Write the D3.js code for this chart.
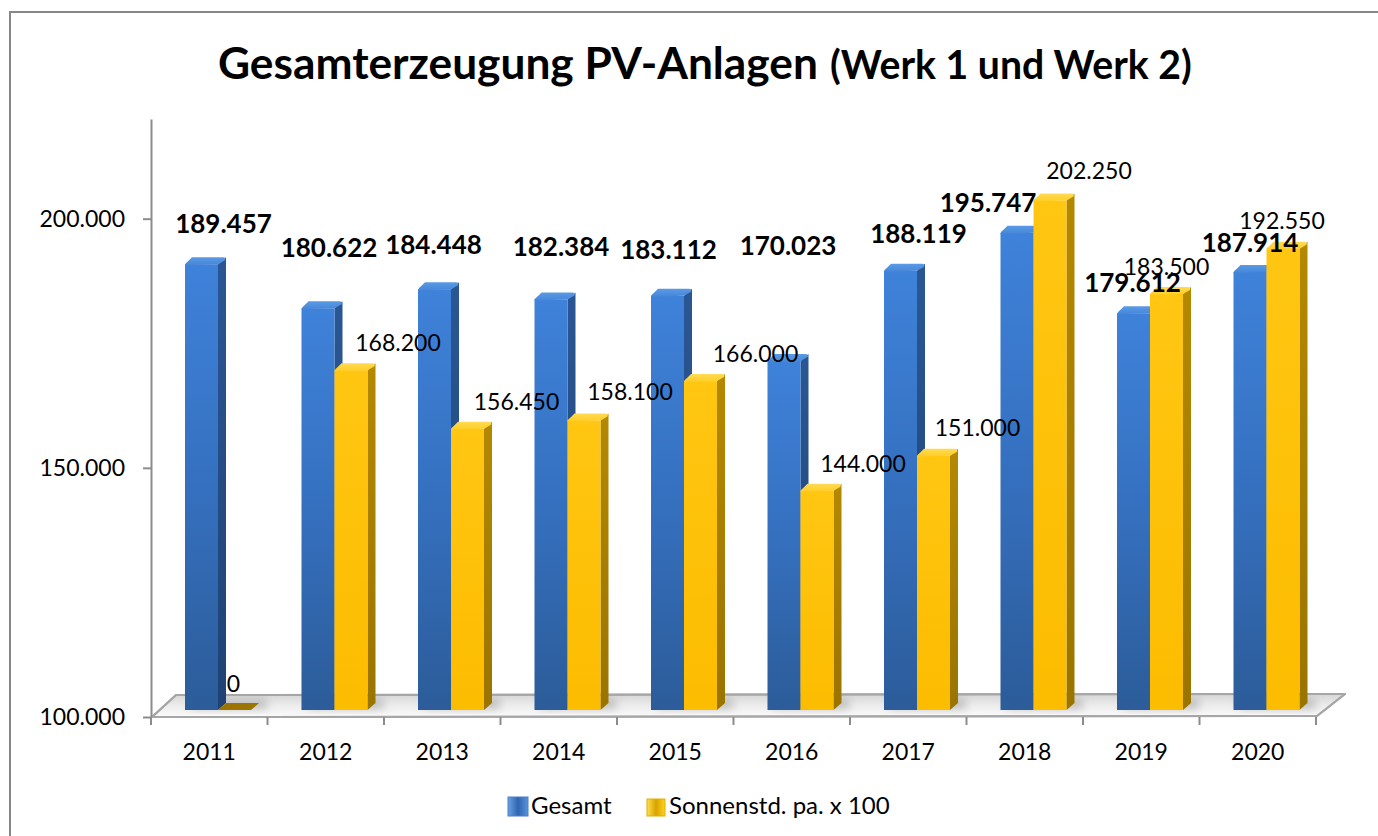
<!DOCTYPE html>
<html>
<head>
<meta charset="utf-8">
<script src="https://cdn.jsdelivr.net/npm/d3@7"></script>
<style>
  html, body { margin: 0; padding: 0; background: #fff; }
  svg { display: block; font-family: Lato, "Open Sans", sans-serif; }
</style>
</head>
<body>
<svg id="chart" width="1378" height="836"></svg>
<script>
// ---------- data ----------
const years = ["2011","2012","2013","2014","2015","2016","2017","2018","2019","2020"];
const gesamt = [189457, 180622, 184448, 182384, 183112, 170023, 188119, 195747, 179612, 187914];
const sonnenstd = [0, 168200, 156450, 158100, 166000, 144000, 151000, 202250, 183500, 192550];
const seriesNames = ["Gesamt", "Sonnenstd. pa. x 100"];
const yTicks = [100000, 150000, 200000];
const titleMain = "Gesamterzeugung PV-Anlagen";
const titleSub = "(Werk 1 und Werk 2)";

// label nudges (layout only, as Excel placed them manually)
const gesamtLabelDx = [22, 11, -1, 10, 1, 4, 18, -29, -1, 0];
const gesamtLabelDy = [-31, -51, -35, -43, -37, -106, -28, -21, -21, -20];
const sonnenLabelDx = [-1, 47, 49, 46, 55, 46, 44, 39, 0, -1];
const sonnenLabelDy = [-18, -19, -19, -20, -19, -19, -20, -21, -19, -20];

// ---------- setup ----------
const svg = d3.select("#chart");
const W = 1378, H = 836;
const FONT = 'Lato, "Open Sans", sans-serif';
const de = d3.formatLocale({decimal: ",", thousands: ".", grouping: [3], currency: ["", "€"]});
const fmt = de.format(",d");

const left = 151, right = 1316, axisY = 717, floorY = 710;
const depthX = 8, depthY = 7;

const x = d3.scaleBand().domain(years).range([left, right]).paddingInner(0).paddingOuter(0);
const xs = d3.scaleBand().domain(seriesNames).range([34, 100]);
const yAxis = d3.scaleLinear().domain([100000, 220000]).range([axisY, 119]);
const yBar = d3.scaleLinear().domain([100000, 220000]).range([floorY, 112]).clamp(true);

// defs
const defs = svg.append("defs");
function vGrad(id, stops) {
  const g = defs.append("linearGradient").attr("id", id).attr("x1", 0).attr("y1", 0).attr("x2", 0).attr("y2", 1);
  stops.forEach(([o, c]) => g.append("stop").attr("offset", o).attr("stop-color", c));
}
function hGrad(id, stops) {
  const g = defs.append("linearGradient").attr("id", id).attr("x1", 0).attr("y1", 0).attr("x2", 1).attr("y2", 0);
  stops.forEach(([o, c]) => g.append("stop").attr("offset", o).attr("stop-color", c));
}
vGrad("blueFront", [[0, "#3f82da"], [0.5, "#3570bf"], [1, "#2c5c99"]]);
vGrad("blueSide", [[0, "#2a5794"], [1, "#1f4273"]]);
vGrad("blueTop", [[0, "#5a9ae6"], [1, "#4586d8"]]);
vGrad("yelFront", [[0, "#ffc612"], [1, "#fcbc00"]]);
vGrad("yelSide", [[0, "#b48800"], [1, "#9a7400"]]);
vGrad("yelTop", [[0, "#ffdb55"], [1, "#ffcc22"]]);
vGrad("floorGrad", [[0, "#d6d6d6"], [0.5, "#ececec"], [1, "#fbfbfb"]]);
hGrad("blueLeg", [[0, "#6aa2e6"], [0.5, "#2f65b0"], [1, "#5b93dc"]]);
hGrad("yelLeg", [[0, "#ffe04a"], [0.5, "#d9a300"], [1, "#ffd21c"]]);
const blur = defs.append("filter").attr("id", "blur").attr("x", "-50%").attr("y", "-50%").attr("width", "200%").attr("height", "200%");
blur.append("feGaussianBlur").attr("stdDeviation", 4);

// background + border
svg.append("rect").attr("width", W).attr("height", H).attr("fill", "#fff");
svg.append("rect").attr("x", 10).attr("y", 12).attr("width", 1400).attr("height", 900)
  .attr("fill", "none").attr("stroke", "#878787").attr("stroke-width", 2);

// title (fit to reference widths)
const tMain = svg.append("text").attr("x", 218).attr("y", 79).attr("font-family", FONT)
  .attr("font-weight", 700).attr("font-size", 40).attr("fill", "#000").text(titleMain);
let w1 = tMain.node().getComputedTextLength();
tMain.attr("font-size", 40 * 600 / w1);
const tSub = svg.append("text").attr("x", 830).attr("y", 79).attr("font-family", FONT)
  .attr("font-weight", 700).attr("font-size", 30).attr("fill", "#000").text(titleSub);
let w2 = tSub.node().getComputedTextLength();
tSub.attr("font-size", 30 * 362 / w2);

// floor
const fl = [[left + 1, axisY], [right + 1, axisY - 1], [1345, 694], [176, 695]];
svg.append("polygon").attr("points", fl.map(p => p.join(",")).join(" "))
  .attr("fill", "url(#floorGrad)").attr("stroke", "#a6a6a6").attr("stroke-width", 2).attr("stroke-linejoin", "round");

// floor shadows behind each bar group
const shadowG = svg.append("g").attr("filter", "url(#blur)");
years.forEach((yr, i) => {
  const gx = x(yr) + xs("Gesamt");
  shadowG.append("rect").attr("x", gx + 6).attr("y", 699).attr("width", 76).attr("height", 10)
    .attr("fill", "#8a8a8a").attr("opacity", 0.45);
});
svg.append("polygon").attr("points", fl.map(p => p.join(",")).join(" "))
  .attr("fill", "none").attr("stroke", "#a6a6a6").attr("stroke-width", 2).attr("stroke-linejoin", "round");

// axes
const yAx = svg.append("g").attr("transform", `translate(${left},0)`)
  .call(d3.axisLeft(yAxis).tickValues(yTicks).tickFormat(fmt).tickSize(8).tickSizeOuter(0).tickPadding(18));
yAx.select(".domain").attr("stroke", "#8c8c8c").attr("stroke-width", 2);
yAx.selectAll(".tick line").attr("stroke", "#8c8c8c").attr("stroke-width", 2);
yAx.selectAll("text").attr("font-family", FONT).attr("font-size", 23).attr("fill", "#000");

const xAx = svg.append("g").attr("transform", `translate(0,${axisY})`)
  .call(d3.axisBottom(x).tickSize(0).tickPadding(27));
xAx.select(".domain").remove();
xAx.selectAll("text").attr("font-family", FONT).attr("font-size", 23).attr("fill", "#000");
const bounds = years.map(d => x(d)).concat([x(years[years.length - 1]) + x.bandwidth()]);
svg.append("g").selectAll("line").data(bounds).join("line")
  .attr("x1", d => d).attr("x2", d => d).attr("y1", axisY).attr("y2", axisY + 8)
  .attr("stroke", "#8c8c8c").attr("stroke-width", 2);

// bars
function drawBar(g, x0, value, kind) {
  const x1 = x0 + xs.bandwidth();
  const yt = yBar(value);
  const yb = floorY;
  const r = 3;
  if (yb - yt > 0.5) {
    g.append("polygon")
      .attr("points", [[x1, yt], [x1 + depthX, yt - depthY], [x1 + depthX, yb - depthY], [x1, yb]].map(p => p.join(",")).join(" "))
      .attr("fill", `url(#${kind}Side)`);
    g.append("rect").attr("x", x0).attr("y", yt).attr("width", x1 - x0).attr("height", yb - yt)
      .attr("fill", `url(#${kind}Front)`);
    g.append("path")
      .attr("d", `M${x0},${yt + 1} Q${x0},${yt - 1} ${x0 + r},${yt - 3} L${x0 + depthX - 1},${yt - depthY} L${x1 + depthX - r},${yt - depthY} Q${x1 + depthX},${yt - depthY} ${x1 + depthX - 1},${yt - depthY + r} L${x1},${yt} Z`)
      .attr("fill", `url(#${kind}Top)`);
  } else {
    g.append("polygon")
      .attr("points", [[x0, yb], [x0 + depthX, yb - depthY], [x1 + depthX, yb - depthY], [x1, yb]].map(p => p.join(",")).join(" "))
      .attr("fill", kind === "yel" ? "#9c7400" : "#1f4273");
  }
}
const barsG = svg.append("g");
years.forEach((yr, i) => {
  const g = barsG.append("g");
  drawBar(g, x(yr) + xs(seriesNames[0]), gesamt[i], "blue");
  drawBar(g, x(yr) + xs(seriesNames[1]), sonnenstd[i], "yel");
});

// labels (Sonnenstd first, Gesamt on top)
const labG = svg.append("g").attr("font-family", FONT).attr("text-anchor", "middle").attr("fill", "#000");
years.forEach((yr, i) => {
  const cx = x(yr) + xs(seriesNames[1]) + xs.bandwidth() / 2;
  labG.append("text").attr("x", cx + sonnenLabelDx[i]).attr("y", yBar(sonnenstd[i]) + sonnenLabelDy[i])
    .attr("font-size", 23).text(fmt(sonnenstd[i]));
});
years.forEach((yr, i) => {
  const cx = x(yr) + xs(seriesNames[0]) + xs.bandwidth() / 2;
  labG.append("text").attr("x", cx + gesamtLabelDx[i]).attr("y", yBar(gesamt[i]) + gesamtLabelDy[i])
    .attr("font-size", 26).attr("font-weight", 700).text(fmt(gesamt[i]));
});

// legend
const leg = svg.append("g").attr("font-family", FONT).attr("font-size", 24).attr("fill", "#000");
leg.append("rect").attr("x", 508).attr("y", 797).attr("width", 20).attr("height", 19)
  .attr("fill", "url(#blueLeg)").attr("stroke", "#4a7fc8").attr("stroke-width", 1);
leg.append("text").attr("x", 531).attr("y", 814).text(seriesNames[0]);
leg.append("rect").attr("x", 647).attr("y", 799).attr("width", 18).attr("height", 17)
  .attr("fill", "url(#yelLeg)").attr("stroke", "#e0b000").attr("stroke-width", 1);
leg.append("text").attr("x", 669).attr("y", 814).text(seriesNames[1]);
</script>
</body>
</html>
